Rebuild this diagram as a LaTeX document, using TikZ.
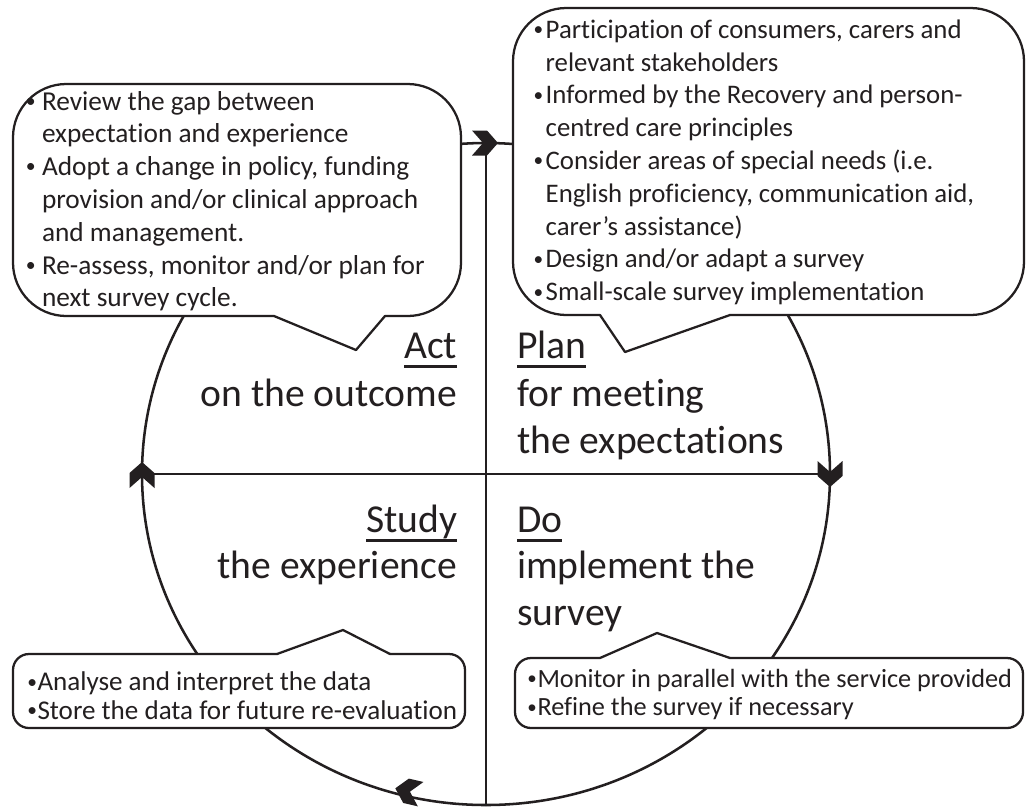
\documentclass[tikz,border=0pt]{standalone}
\usepackage{fontspec}
\usepackage{graphicx}
\setmainfont{Carlito}[Ligatures=NoCommon]
\definecolor{ink}{RGB}{35,31,32}
% underline at a fixed depth below the baseline
\newlength\ulwd
\newcommand\ulword[1]{\settowidth\ulwd{#1}\rlap{\rule[-7.2pt]{\ulwd}{1.9pt}}#1}
% small bullet hanging to the left of the text start
\newcommand\bl[1]{\llap{\makebox[0pt][c]{\raisebox{0.1em}{\scalebox{0.72}{\textbullet}}}\hspace{#1}}}
% chevron arrow head: centre x, centre y, direction
\newcommand\chevron[3]{\fill[ink, shift={(#1,#2)}, rotate=#3] (12,0) -- (1,12.5) -- (-14,12.5) -- (-3,0) -- (-14,-12.5) -- (1,-12.5) -- cycle;}

\begin{document}
\begin{tikzpicture}[x=0.75pt, y=-0.75pt, line join=round, line cap=round,
  every node/.style={inner sep=0pt, outer sep=0pt, text=ink},
  cycleline/.style={draw=ink, line width=1.9pt},
  boxline/.style={draw=ink, line width=1.7pt},
  bigtext/.style={font=\fontsize{29.7}{34}\selectfont},
  tltext/.style={font=\fontsize{20.5}{24}\selectfont},
  trtext/.style={font=\fontsize{20.1}{24}\selectfont},
  bltext/.style={font=\fontsize{20.3}{24}\selectfont},
  brtext/.style={font=\fontsize{19.7}{24}\selectfont}]
\useasboundingbox (0,0) rectangle (1031,808);

% the cycle and its quadrant dividers
\draw[cycleline] (486,474) ellipse [x radius=344, y radius=331];
\coordinate (top) at (486,143);
\coordinate (bottom) at (486,805);
\coordinate (left) at (142,474);
\coordinate (right) at (830,474);
\draw[cycleline] (top) -- (bottom);
\draw[cycleline] (left) -- (right);

% direction of the cycle
\chevron{486}{143}{0}
\chevron{830}{475}{-90}
\chevron{407}{791}{167}
\chevron{142}{474}{90}

% callout: Act (top left)
\fill[white, rounded corners=40] (13,84) rectangle (461,316);
\fill[white] (274,316) -- (356,350) -- (385,316) -- cycle;
\draw[boxline, rounded corners=40] (385,316) -- (461,316) -- (461,84) -- (13,84) -- (13,316) -- (274,316);
\draw[boxline] (274,316) -- (356,350) -- (385,316);

% callout: Plan (top right)
\fill[white, rounded corners=40] (513,8) rectangle (1024,315);
\fill[white] (600,315) -- (625,352) -- (730,315) -- cycle;
\draw[boxline, rounded corners=40] (730,315) -- (1024,315) -- (1024,8) -- (513,8) -- (513,315) -- (600,315);
\draw[boxline] (600,315) -- (625,352) -- (730,315);

% callout: Study (bottom left)
\fill[white, rounded corners=12] (13,654) rectangle (465,728);
\fill[white] (277,654) -- (343,630) -- (390,654) -- cycle;
\draw[boxline, rounded corners=12] (390,654) -- (465,654) -- (465,728) -- (13,728) -- (13,654) -- (277,654);
\draw[boxline] (277,654) -- (343,630) -- (390,654);

% callout: Do (bottom right)
\fill[white, rounded corners=12] (515,658) rectangle (1023,728);
\fill[white] (600,658) -- (657,633) -- (730,658) -- cycle;
\draw[boxline, rounded corners=12] (730,658) -- (1023,658) -- (1023,728) -- (515,728) -- (515,658) -- (600,658);
\draw[boxline] (600,658) -- (657,633) -- (730,658);

% quadrant headings
\node[bigtext, anchor=base east] (act) at (457,358) {\ulword{Act}};
\node[bigtext, anchor=base east] (act2) at (457,406) {on the outcome};
\node[bigtext, anchor=base west] (plan) at (517,358) {\ulword{Plan}};
\node[bigtext, anchor=base west] (plan2) at (517,406) {for meeting};
\node[bigtext, anchor=base west] (plan3) at (517,453) {the expectations};
\node[bigtext, anchor=base east] (study) at (457,532) {\ulword{Study}};
\node[bigtext, anchor=base east] (study2) at (457,578) {the experience};
\node[bigtext, anchor=base west] (do) at (517,532) {\ulword{Do}};
\node[bigtext, anchor=base west] (do2) at (517,578) {implement the};
\node[bigtext, anchor=base west] (do3) at (517,625) {survey};

% Act details
\node[tltext, anchor=base west] (tl1) at (42,110) {\bl{8.5pt}Review the gap between};
\node[tltext, anchor=base west] (tl2) at (42,142.8) {expectation and experience};
\node[tltext, anchor=base west] (tl3) at (42,175.6) {\bl{8.5pt}Adopt a change in policy, funding};
\node[tltext, anchor=base west] (tl4) at (42,208.4) {provision and/or clinical approach};
\node[tltext, anchor=base west] (tl5) at (42,241.2) {and management.};
\node[tltext, anchor=base west] (tl6) at (42,274) {\bl{8.5pt}Re-assess, monitor and/or plan for};
\node[tltext, anchor=base west] (tl7) at (42,306.8) {next survey cycle.};

% Plan details
\node[trtext, anchor=base west] (tr1) at (545.7,38.3) {\bl{5.5pt}Participation of consumers, carers and};
\node[trtext, anchor=base west] (tr2) at (545.7,71.1) {relevant stakeholders};
\node[trtext, anchor=base west] (tr3) at (545.7,103.9) {\bl{5.5pt}Informed by the Recovery and person-};
\node[trtext, anchor=base west] (tr4) at (545.7,136.7) {centred care principles};
\node[trtext, anchor=base west] (tr5) at (545.7,169.5) {\bl{5.5pt}Consider areas of special needs (i.e.};
\node[trtext, anchor=base west] (tr6) at (545.7,202.3) {English proficiency, communication aid,};
\node[trtext, anchor=base west] (tr7) at (545.7,235.1) {carer’s assistance)};
\node[trtext, anchor=base west] (tr8) at (545.7,267.9) {\bl{5.5pt}Design and/or adapt a survey};
\node[trtext, anchor=base west] (tr9) at (545.7,300.7) {\bl{5.5pt}Small-scale survey implementation};

% Study details
\node[bltext, anchor=base west] (bl1) at (37.5,690.7) {\bl{4pt}Analyse and interpret the data};
\node[bltext, anchor=base west] (bl2) at (37.5,719.3) {\bl{4pt}Store the data for future re-evaluation};

% Do details
\node[brtext, anchor=base west] (br1) at (537.5,687.3) {\bl{4pt}Monitor in parallel with the service provided};
\node[brtext, anchor=base west] (br2) at (537.5,715.7) {\bl{4pt}Refine the survey if necessary};
\end{tikzpicture}
\end{document}
